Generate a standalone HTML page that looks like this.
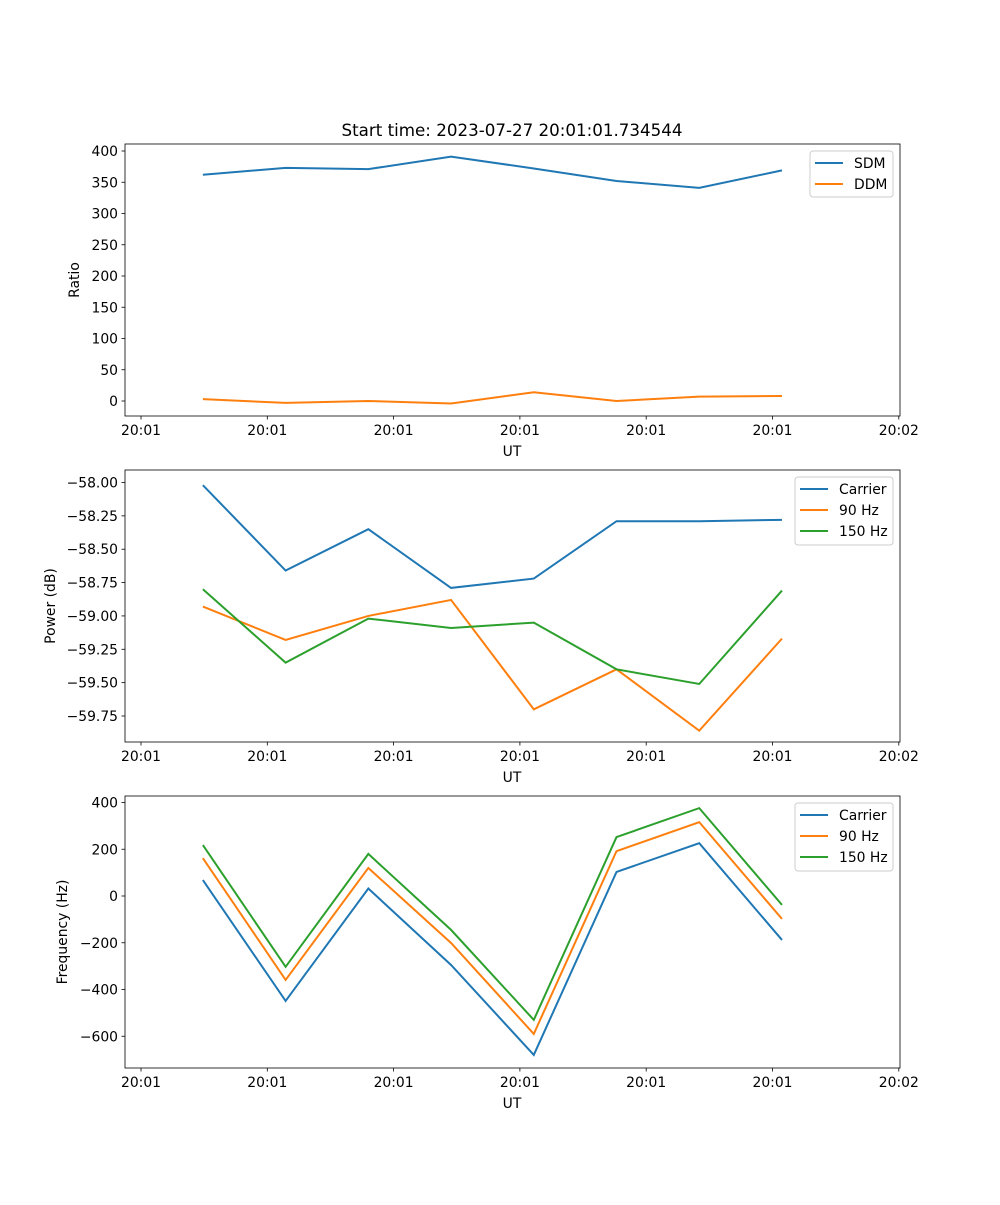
<!DOCTYPE html>
<html><head><meta charset="utf-8"><style>
body{margin:0;background:#fff;}
svg text{font-family:"DejaVu Sans","Liberation Sans",sans-serif;font-size:13.9px;fill:#000;}
</style></head><body>
<svg id="fig" width="1000" height="1200" xmlns="http://www.w3.org/2000/svg">
<text x="512" y="136" text-anchor="middle" style="font-size:16.7px">Start time: 2023-07-27 20:01:01.734544</text>
</svg>
<script>
// x positions of samples in tick units (tick 0 = first 20:01 label)
const sampleTimes = [0.49, 1.145, 1.80, 2.455, 3.11, 3.765, 4.42, 5.075];
const xTickLabels = ["20:01","20:01","20:01","20:01","20:01","20:01","20:02"];
const sdm = [362, 373, 371, 391, 372, 352, 341, 369];
const ddm = [3, -3, 0, -4, 14, 0, 7, 8];
const powCarrier = [-58.02, -58.66, -58.35, -58.79, -58.72, -58.29, -58.29, -58.28];
const pow90 = [-58.93, -59.18, -59.00, -58.88, -59.70, -59.40, -59.86, -59.17];
const pow150 = [-58.80, -59.35, -59.02, -59.09, -59.05, -59.40, -59.51, -58.81];
const freqCarrier = [68, -449, 32, -295, -680, 103, 226, -188];
const freq90 = [162, -359, 120, -201, -590, 192, 316, -98];
const freq150 = [218, -303, 180, -145, -530, 252, 376, -38];
const ticks1 = [0,50,100,150,200,250,300,350,400];
const ticks2 = [-58.00,-58.25,-58.50,-58.75,-59.00,-59.25,-59.50,-59.75];
const ticks3 = [400,200,0,-200,-400,-600];

const NS="http://www.w3.org/2000/svg";
const svg=document.getElementById('fig');
const C=["#1f77b4","#ff7f0e","#2ca02c"];
function mk(t,a,p){const e=document.createElementNS(NS,t);for(const k in a)e.setAttribute(k,a[k]);(p||svg).appendChild(e);return e;}
const L=125,R=900;
const xs=v=>141+126.3*v;

function panel(top,bot,v0,y0,v1,y1,ticks,fmt,ylabel,ylx,series,names,legW,id){
  const g=mk('g',{});
  
  
  const ys=v=>y0+(v-v0)*(y1-y0)/(v1-v0);
  ticks.forEach(t=>{const y=ys(t);
    mk('line',{x1:L-3.5,x2:L,y1:y,y2:y,stroke:'#000','stroke-width':0.8},g);
    const tx=mk('text',{x:L-7,y:y+5,'text-anchor':'end'},g);tx.textContent=fmt(t);
    
    
  });
  xTickLabels.forEach((lab,i)=>{const x=xs(i);
    mk('line',{x1:x,x2:x,y1:bot,y2:bot+3.5,stroke:'#000','stroke-width':0.8},g);
    const tx=mk('text',{x:x,y:bot+19,'text-anchor':'middle'},g);tx.textContent=lab;
    
    
  });
  series.forEach((s,k)=>{
    const p=mk('polyline',{points:s.map((v,i)=>xs(sampleTimes[i])+','+ys(v)).join(' '),fill:'none',stroke:C[k],'stroke-width':2},g);
    
    
  });
  mk('rect',{x:L,y:top,width:R-L,height:bot-top,fill:'none',stroke:'#000','stroke-width':0.8},g);
  const xl=mk('text',{x:512,y:bot+40,'text-anchor':'middle'},g);xl.textContent='UT';
  
  
  const yl=mk('text',{x:ylx,y:(top+bot)/2,'text-anchor':'middle',transform:`rotate(-90 ${ylx} ${(top+bot)/2})`},g);yl.textContent=ylabel;
  
  
  const lg=mk('g',{},g);
  
  
  const lx=R-7-legW, ly=top+7;
  mk('rect',{x:lx,y:ly,width:legW,height:2+names.length*22,rx:3,fill:'#fff',stroke:'#ccc','stroke-width':1},lg);
  names.forEach((n,k)=>{const y=ly+12+k*21;
    mk('line',{x1:lx+5,x2:lx+33,y1:y,y2:y,stroke:C[k],'stroke-width':2},lg);
    const t=mk('text',{x:lx+44,y:y+5},lg);t.textContent=n;
    
    
  });
}
panel(144,416,0,401,400,151,ticks1,t=>String(t),'Ratio',79,[sdm,ddm],['SDM','DDM'],83,'ratio');
panel(470,742,-58.0,482.5,-59.75,716,ticks2,t=>'\u2212'+Math.abs(t).toFixed(2),'Power (dB)',55,[powCarrier,pow90,pow150],['Carrier','90 Hz','150 Hz'],98,'power');
panel(796,1068,0,896,400,802.5,ticks3,t=>t<0?'\u2212'+Math.abs(t):String(t),'Frequency (Hz)',67,[freqCarrier,freq90,freq150],['Carrier','90 Hz','150 Hz'],98,'frequency');
</script>
</body></html>
